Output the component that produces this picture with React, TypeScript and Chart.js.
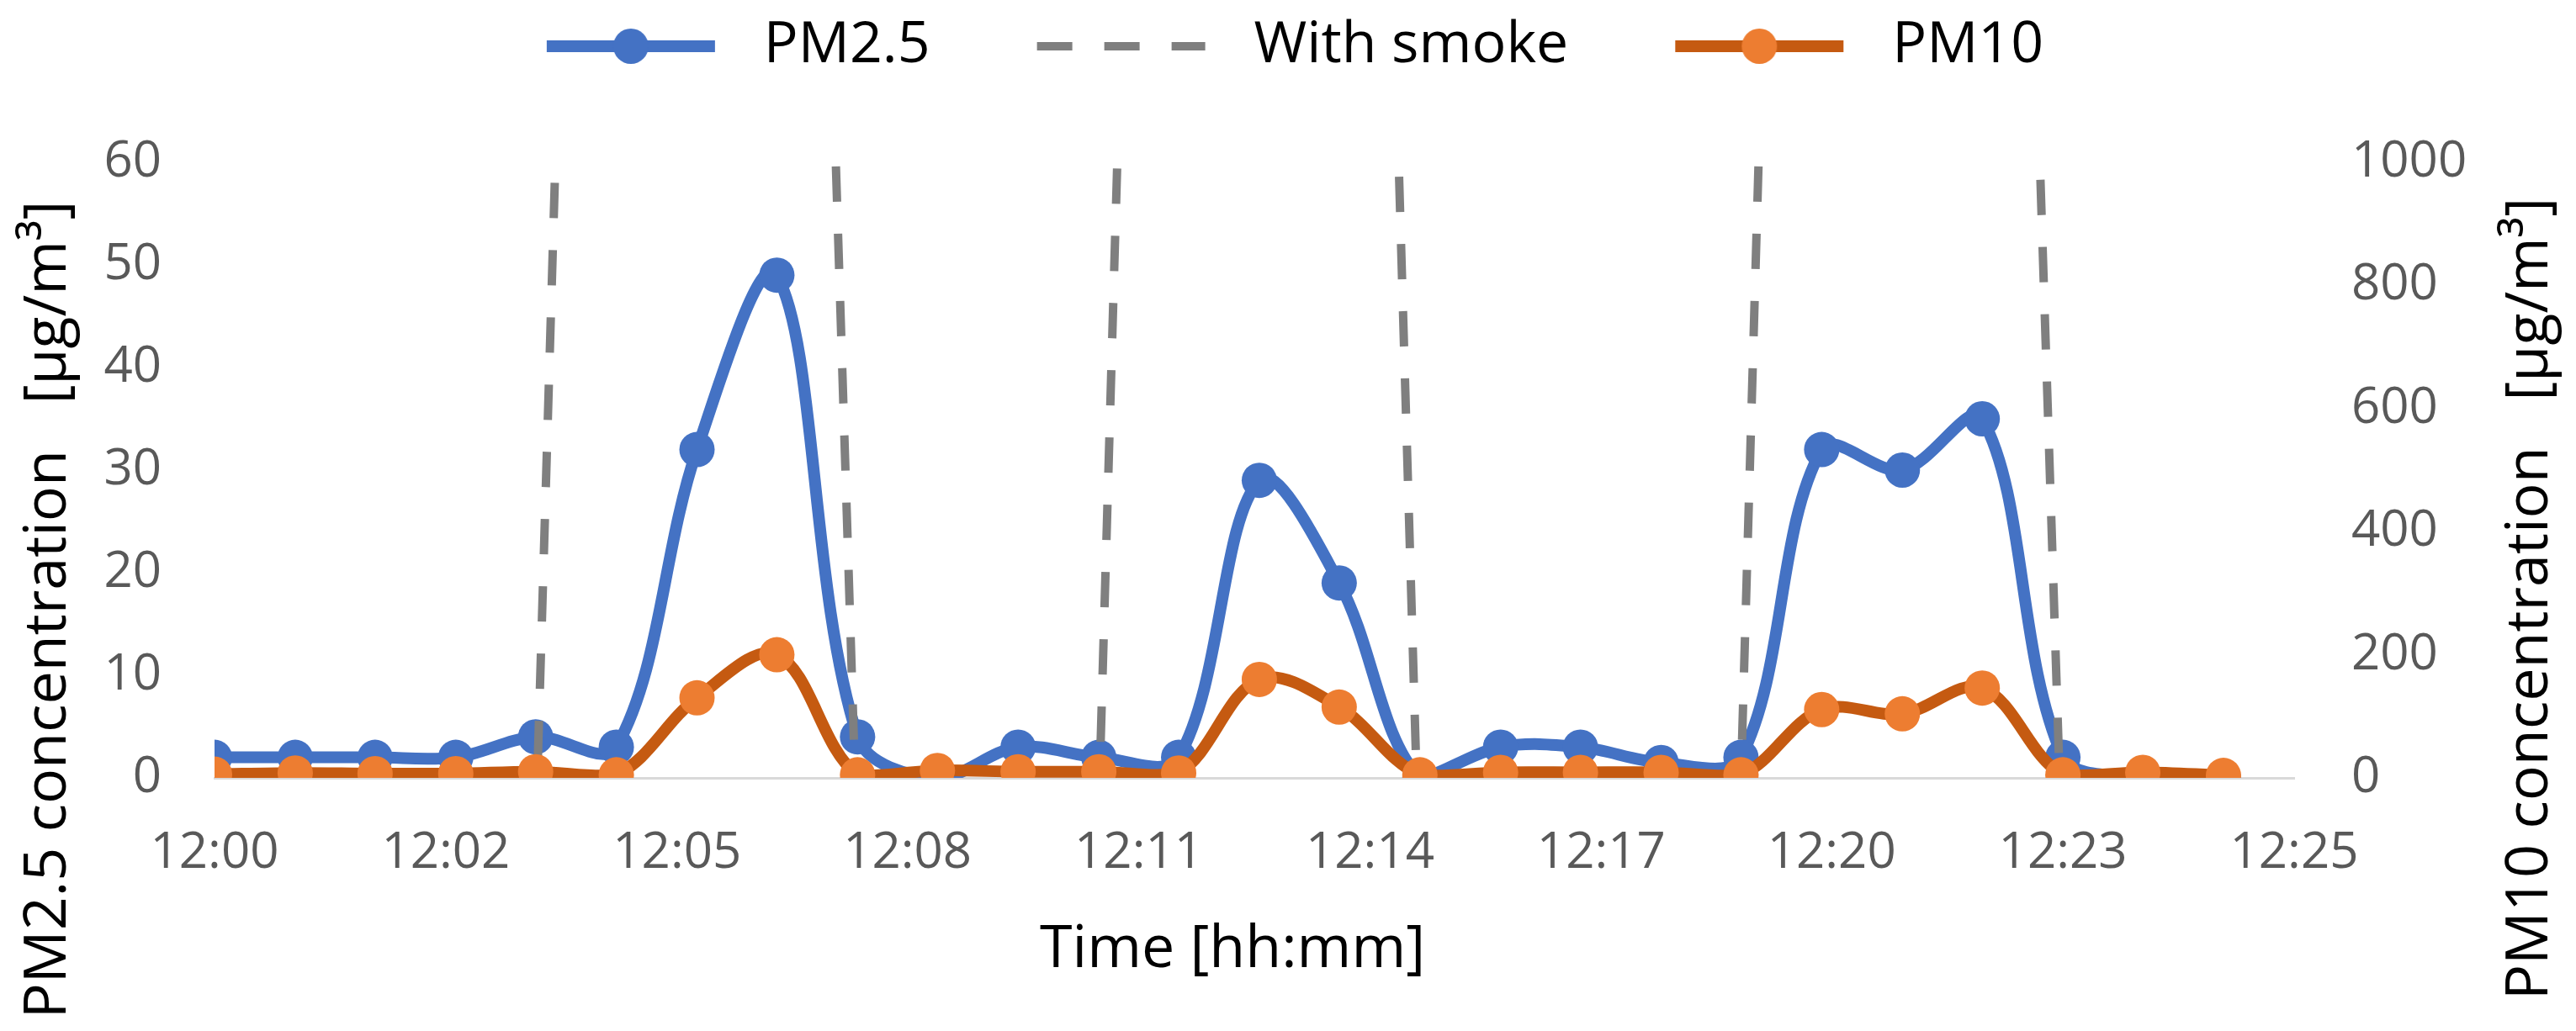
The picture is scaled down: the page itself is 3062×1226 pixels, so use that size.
import { useEffect, useRef } from "react";
import { Chart, registerables } from "chart.js";

Chart.register(...registerables);

// ---- data (minutes after 12:00) ----
const timeMinutes = [0, 0.97, 1.93, 2.9, 3.86, 4.83, 5.8, 6.76, 7.73, 8.69, 9.66, 10.63, 11.59, 12.56, 13.52, 14.49, 15.46, 16.42, 17.39, 18.35, 19.32, 20.29, 21.25, 22.22, 23.18, 24.15];
const pm25Values = [2, 2, 2, 2, 4, 3, 32, 49, 4, 0, 3, 2, 2, 29, 19, 0, 3, 3, 1.5, 2, 32, 30, 35, 2, 0, 0];
const pm10Values = [6, 8, 7, 7, 10, 5, 130, 200, 5, 12, 10, 10, 8, 160, 115, 5, 9, 9, 9, 5, 111, 104, 146, 5, 9, 4];

const smokeTopMinutes = [4.09, 7.47, 10.85, 14.24, 18.56, 21.95];
const smokeBottomMinutes = [3.88, 7.7, 10.64, 14.45, 18.35, 22.18];
const smokeTopValues = [58, 59.6, 59.4, 58.6, 59.6, 58.3];
const smokeBottomValues = [0, 0, 0, 0, 0, 0];

const xTickMinutes = [0, 2.78, 5.56, 8.33, 11.11, 13.89, 16.67, 19.44, 22.22, 25];
const xTickLabels = ["12:00", "12:02", "12:05", "12:08", "12:11", "12:14", "12:17", "12:20", "12:23", "12:25"];

const seriesLabels = ["PM2.5", "With smoke", "PM10"];
const xTitle = "Time [hh:mm]";
const leftTitle = "PM2.5 concentration   [\u00b5g/m\u00b3]";
const rightTitle = "PM10 concentration   [\u00b5g/m\u00b3]";

// ---- styles ----
const BLUE = "#4472C4";
const ORANGE_LINE = "#C55A11";
const ORANGE_MARK = "#ED7D31";
const GRAY = "#7F7F7F";
const TICK_COLOR = "#595959";
const FONT = "'Open Sans', sans-serif";

const SAMPLE_BOX = 341;
const SAMPLE_START = 117;
const SAMPLE_LEN = 200;

function makeLineSample(lineColor: string, markColor: string) {
  const c = document.createElement("canvas");
  c.width = SAMPLE_BOX;
  c.height = 60;
  const g = c.getContext("2d")!;
  g.strokeStyle = lineColor;
  g.lineWidth = 14;
  g.beginPath();
  g.moveTo(SAMPLE_START, 30);
  g.lineTo(SAMPLE_START + SAMPLE_LEN, 30);
  g.stroke();
  g.fillStyle = markColor;
  g.beginPath();
  g.arc(SAMPLE_START + SAMPLE_LEN / 2, 30, 21, 0, Math.PI * 2);
  g.fill();
  return c;
}

function makeDashSample() {
  const c = document.createElement("canvas");
  c.width = SAMPLE_BOX;
  c.height = 60;
  const g = c.getContext("2d")!;
  g.strokeStyle = GRAY;
  g.lineWidth = 10;
  g.setLineDash([42, 38]);
  g.beginPath();
  g.moveTo(SAMPLE_START, 30);
  g.lineTo(SAMPLE_START + SAMPLE_LEN, 30);
  g.stroke();
  return c;
}

const legendSpacer = {
  id: "legendSpacer",
  beforeLayout(chart: any) {
    const lg = chart.legend;
    if (lg && !lg._spaced) {
      const orig = lg.fit.bind(lg);
      lg.fit = () => {
        orig();
        lg.height += 94;
      };
      lg._spaced = true;
    }
  },
  afterLayout(chart: any) {
    const lg = chart.legend;
    if (lg) {
      lg.left -= 50;
      lg.right -= 50;
    }
  },
};

const axisTitles = {
  id: "axisTitles",
  afterDraw(chart: any) {
    const ctx = chart.ctx as CanvasRenderingContext2D;
    ctx.save();
    ctx.font = `70px ${FONT}`;
    ctx.fillStyle = "#000000";
    ctx.textAlign = "center";
    ctx.textBaseline = "middle";
    ctx.fillText(xTitle, 1465, 1130);
    ctx.save();
    ctx.translate(58, 725);
    ctx.rotate(-Math.PI / 2);
    ctx.fillText(leftTitle, 0, 0);
    ctx.restore();
    ctx.save();
    ctx.translate(3008, 712);
    ctx.rotate(-Math.PI / 2);
    ctx.fillText(rightTitle, 0, 0);
    ctx.restore();
    ctx.restore();
  },
};

export default function App() {
  const ref = useRef<HTMLCanvasElement | null>(null);

  useEffect(() => {
    if (!ref.current) return;
    const pm25Data = timeMinutes.map((t, i) => ({ x: t, y: pm25Values[i] }));
    const pm10Data = timeMinutes.map((t, i) => ({ x: t, y: pm10Values[i] }));
    const smokeData: { x: number; y: number | null }[] = [];
    smokeTopMinutes.forEach((t, i) => {
      smokeData.push({ x: t, y: smokeTopValues[i] });
      smokeData.push({ x: smokeBottomMinutes[i], y: smokeBottomValues[i] });
      smokeData.push({ x: smokeBottomMinutes[i], y: null });
    });

    const samples = [makeLineSample(BLUE, BLUE), makeDashSample(), makeLineSample(ORANGE_LINE, ORANGE_MARK)];

    const chart = new Chart(ref.current, {
      type: "line",
      data: {
        datasets: [
          {
            label: seriesLabels[0],
            data: pm25Data,
            borderColor: BLUE,
            backgroundColor: BLUE,
            borderWidth: 14,
            pointRadius: 21,
            pointBackgroundColor: BLUE,
            pointBorderWidth: 0,
            tension: 0.35,
            yAxisID: "y",
            order: 3,
          },
          {
            label: seriesLabels[1],
            data: smokeData as any,
            borderColor: GRAY,
            borderWidth: 10,
            borderDash: [42, 38],
            pointRadius: 0,
            tension: 0,
            spanGaps: false,
            yAxisID: "y",
            order: 2,
          },
          {
            label: seriesLabels[2],
            data: pm10Data,
            borderColor: ORANGE_LINE,
            backgroundColor: ORANGE_MARK,
            borderWidth: 14,
            pointRadius: 21,
            pointBackgroundColor: ORANGE_MARK,
            pointBorderWidth: 0,
            tension: 0.35,
            yAxisID: "y1",
            order: 1,
          },
        ],
      },
      options: {
        animation: false,
        responsive: false,
        events: [],
        layout: { padding: { top: 11, left: 0, right: 0, bottom: 0 } },
        plugins: {
          tooltip: { enabled: false },
          legend: {
            position: "top",
            labels: {
              usePointStyle: true,
              pointStyleWidth: SAMPLE_BOX,
              padding: 10,
              color: "#000000",
              font: { family: FONT, size: 68 },
              generateLabels: () =>
                seriesLabels.map((text, i) => ({
                  text,
                  datasetIndex: i,
                  hidden: false,
                  pointStyle: samples[i] as any,
                  fillStyle: "transparent",
                  strokeStyle: "transparent",
                  lineWidth: 0,
                  fontColor: "#000000",
                })),
            },
          },
        },
        scales: {
          x: {
            type: "linear",
            min: 0,
            max: 25,
            afterBuildTicks: (s: any) => {
              s.ticks = xTickMinutes.map((v) => ({ value: v }));
            },
            afterFit: (s: any) => {
              s.height = 301;
            },
            ticks: {
              autoSkip: false,
              maxRotation: 0,
              padding: 54,
              color: TICK_COLOR,
              font: { family: FONT, size: 60 },
              callback: (_v: any, i: number) => xTickLabels[i],
            },
            grid: { display: false, drawTicks: false },
            border: { display: true, color: "#D9D9D9", width: 3 },
          },
          y: {
            position: "left",
            min: 0,
            max: 60,
            afterFit: (s: any) => {
              s.width = 255;
            },
            ticks: {
              stepSize: 10,
              padding: 63,
              color: TICK_COLOR,
              font: { family: FONT, size: 60 },
              callback: (v: any) => String(v),
            },
            grid: { display: false, drawTicks: false },
            border: { display: false },
          },
          y1: {
            position: "right",
            min: 0,
            max: 1000,
            afterFit: (s: any) => {
              s.width = 335;
            },
            ticks: {
              stepSize: 200,
              padding: 68,
              color: TICK_COLOR,
              font: { family: FONT, size: 60 },
              callback: (v: any) => String(v),
            },
            grid: { display: false, drawTicks: false },
            border: { display: false },
          },
        },
      },
      plugins: [legendSpacer, axisTitles],
    });
    return () => chart.destroy();
  }, []);

  return (
    <div style={{ position: "absolute", left: 0, top: 0, width: 3062, height: 1226, background: "#ffffff" }}>
      <canvas ref={ref} width={3062} height={1226} style={{ display: "block" }} />
    </div>
  );
}
